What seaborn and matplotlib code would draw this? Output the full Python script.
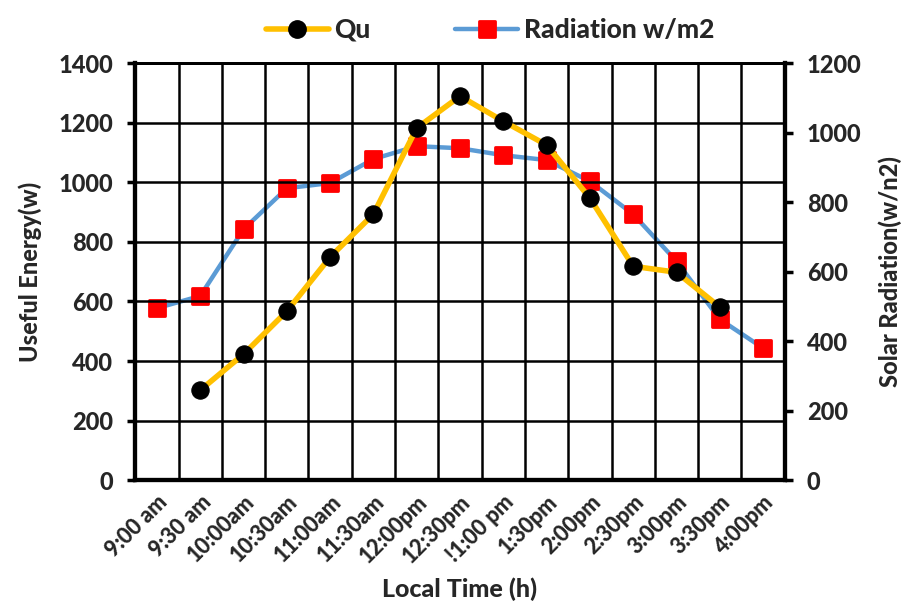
import numpy as np
import pandas as pd
import matplotlib
matplotlib.use("Agg")
import matplotlib.pyplot as plt
from matplotlib.markers import MarkerStyle
from matplotlib.lines import Line2D
import seaborn as sns

# Sampling times along the day
times = ["9:00 am", "9:30 am", "10:00am", "10:30am", "11:00am", "11:30am",
         "12:00pm", "12:30pm", "!1:00 pm", "1:30pm", "2:00pm", "2:30pm",
         "3:00pm", "3:30pm", "4:00pm"]
# Useful energy gained by the collector (W)
qu = [np.nan, 302, 423, 567, 749, 893, 1182, 1289, 1205, 1125, 947, 718, 698, 581, np.nan]
# Incident solar radiation (W/m2)
radiation = [495, 530, 722, 840, 855, 924, 961, 955, 935, 921, 860, 765, 630, 463, 380]

left_ticks = list(range(0, 1401, 200))
right_ticks = list(range(0, 1201, 200))

W = "black"  # heavy text weight

sns.set_theme(style="white")
plt.rcParams["font.family"] = ["Lato", "DejaVu Sans"]
plt.rcParams["font.weight"] = W

df = pd.DataFrame({"pos": np.arange(len(times)), "Qu": qu, "Radiation": radiation})

fig = plt.figure(figsize=(9.02, 6.01), dpi=100)
ax = fig.add_axes([0.150, 0.201, 0.720, 0.694])
ax2 = ax.twinx()

sq = MarkerStyle("s", joinstyle="round")
sns.lineplot(data=df, x="pos", y="Radiation", ax=ax2, color="#5B9BD5", linewidth=3.2,
             marker=sq, markersize=11, markerfacecolor="#FF0000",
             markeredgecolor="#FF0000", markeredgewidth=2, zorder=3)
sns.lineplot(data=df.dropna(), x="pos", y="Qu", ax=ax, color="#FFC000", linewidth=4,
             marker="o", markersize=12.5, markerfacecolor="black",
             markeredgecolor="black", zorder=3)

# Draw Qu above the radiation axis
ax.set_zorder(ax2.get_zorder() + 1)
ax.patch.set_visible(False)

n = len(times)
ax.set_xlim(-0.5, n - 0.5)
ax.set_ylim(0, 1400)
ax2.set_ylim(0, 1200)
ax.set_yticks(left_ticks)
ax2.set_yticks(right_ticks)
ax.set_xticks(np.arange(n))
ax.set_xticklabels(times, rotation=45, ha="right", va="top",
                   rotation_mode="anchor", fontsize=15.5, fontweight=W)
ax.set_xticks(np.arange(n + 1) - 0.5, minor=True)
ax.tick_params(axis="x", which="major", length=0, pad=8)
ax.tick_params(axis="x", which="minor", length=6, width=2, color="black",
               direction="inout")
ax.tick_params(axis="y", length=6, width=2.5, color="black", labelsize=17,
               direction="out", pad=10)
ax2.tick_params(axis="y", length=6, width=2.5, color="black", labelsize=17,
                direction="out", pad=10)
for lab in ax.get_yticklabels() + ax2.get_yticklabels():
    lab.set_fontweight(W)

ax.grid(True, which="minor", axis="x", color="black", linewidth=1.8)
ax.grid(True, which="major", axis="y", color="black", linewidth=1.8)
ax.grid(False, which="major", axis="x")
ax2.grid(False)

for a in (ax, ax2):
    for side in ("left", "right", "bottom"):
        a.spines[side].set_color("black")
        a.spines[side].set_linewidth(3)
    a.spines["top"].set_color("black")
    a.spines["top"].set_linewidth(2)

ax.set_xlabel("Local Time (h)", fontsize=18, fontweight=W)
ax.xaxis.set_label_coords(0.5, -0.232)
ax.set_ylabel("Useful Energy(w)", fontsize=17, fontweight=W, labelpad=12)
ax2.set_ylabel("Solar Radiation(w/n2)", fontsize=17, fontweight=W, labelpad=12)

handles = [
    Line2D([], [], color="#FFC000", linewidth=4, marker="o", markersize=12.5,
           markerfacecolor="black", markeredgecolor="black"),
    Line2D([], [], color="#5B9BD5", linewidth=3.2, marker=sq, markersize=11,
           markerfacecolor="#FF0000", markeredgecolor="#FF0000", markeredgewidth=2),
]
fig.legend(handles, ["Qu", "Radiation w/m2"], loc="upper center",
           bbox_to_anchor=(0.543, 1.01), ncol=2, frameon=False,
           prop={"size": 19, "weight": W}, columnspacing=3.2,
           handlelength=2.4, handletextpad=0.2)

fig.savefig("out.png", dpi=100, facecolor="white")
